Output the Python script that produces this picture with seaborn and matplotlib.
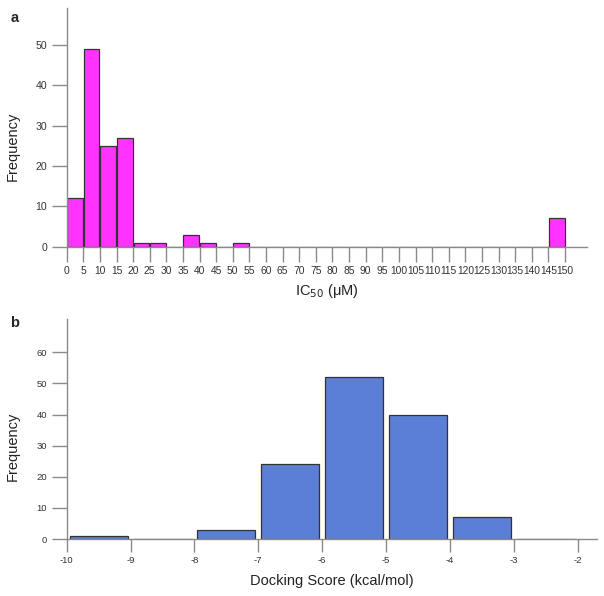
import numpy as np
import pandas as pd
import matplotlib
matplotlib.use("Agg")
import matplotlib.pyplot as plt
import seaborn as sns

# ---- Data ----
ic50_bin_edges = list(range(0, 155, 5))
ic50_counts = [12, 49, 25, 27, 1, 1, 0, 3, 1, 0, 1, 0, 0, 0, 0, 0, 0, 0, 0, 0,
               0, 0, 0, 0, 0, 0, 0, 0, 0, 7]
ic50_ticks = list(range(0, 155, 5))

dock_bin_edges = [-10, -9, -8, -7, -6, -5, -4, -3, -2]
dock_counts = [1, 0, 3, 24, 52, 40, 7, 0]
dock_ticks = [-10, -9, -8, -7, -6, -5, -4, -3, -2]

sns.set_theme(style="white")
plt.rcParams['font.family'] = ['Liberation Sans', 'DejaVu Sans']

fig = plt.figure(figsize=(6.04, 5.96), dpi=100)
axis_gray = "#8a8a8a"

# ---- Panel a ----
ax1 = fig.add_axes([0.1104, 0.5861, 0.8614, 0.4005])
df_a = pd.DataFrame({
    "x": [(ic50_bin_edges[i] + ic50_bin_edges[i + 1]) / 2 for i in range(len(ic50_counts))],
    "w": ic50_counts,
})
sns.histplot(data=df_a, x="x", weights="w", bins=ic50_bin_edges, shrink=0.94,
             color="#FF33FF", alpha=1, edgecolor="#333333", linewidth=0.9, ax=ax1)
ax1.set_xlim(0, 156.6)
ax1.set_ylim(0, 59.2)
ax1.set_xticks(ic50_ticks)
ax1.set_xticklabels([str(t) for t in ic50_ticks], fontsize=7.4, color="#333333")
ax1.set_yticks([0, 10, 20, 30, 40, 50])
ax1.set_yticklabels(["0", "10", "20", "30", "40", "50"], fontsize=7.6, color="#333333")
ax1.set_xlabel("IC$_{50}$ (μM)", fontsize=10.5, color="#222222", labelpad=4)
ax1.set_ylabel("Frequency", fontsize=10.5, color="#222222")
ax1.yaxis.set_label_coords(-0.09, 0.422)
ax1.text(-0.0994, 0.958, "a", transform=ax1.transAxes, fontsize=10.5, fontweight="bold",
         ha="center", va="center")

# ---- Panel b ----
ax2 = fig.add_axes([0.1104, 0.0956, 0.8775, 0.3691])
df_b = pd.DataFrame({
    "x": [(dock_bin_edges[i] + dock_bin_edges[i + 1]) / 2 for i in range(len(dock_counts))],
    "w": dock_counts,
})
sns.histplot(data=df_b, x="x", weights="w", bins=dock_bin_edges, shrink=0.91,
             color="#5B7FD5", alpha=1, edgecolor="#333333", linewidth=0.9, ax=ax2)
ax2.set_xlim(-10, -1.70)
ax2.set_ylim(0, 70.7)
ax2.set_xticks(dock_ticks)
ax2.set_xticklabels([str(t) for t in dock_ticks], fontsize=6.8, color="#333333")
ax2.set_yticks([0, 10, 20, 30, 40, 50, 60])
ax2.set_yticklabels(["0", "10", "20", "30", "40", "50", "60"], fontsize=6.8, color="#333333")
ax2.set_xlabel("Docking Score (kcal/mol)", fontsize=10.5, color="#222222", labelpad=7)
ax2.set_ylabel("Frequency", fontsize=10.5, color="#222222")
ax2.yaxis.set_label_coords(-0.088, 0.423)
ax2.text(-0.0975, 0.982, "b", transform=ax2.transAxes, fontsize=10.5, fontweight="bold",
         ha="center", va="center")

for ax, xlen in ((ax1, 11), (ax2, 9)):
    for s in ("top", "right"):
        ax.spines[s].set_visible(False)
    for s in ("left", "bottom"):
        ax.spines[s].set_color(axis_gray)
        ax.spines[s].set_linewidth(1.0)
    ax.tick_params(axis="x", direction="out", length=xlen, width=1.0, color=axis_gray,
                   pad=3, bottom=True)
    ax.tick_params(axis="y", direction="out", length=11, width=1.0, color=axis_gray,
                   pad=3, left=True)
    ax.grid(False)
    ax.set_facecolor("white")

fig.savefig("out.png", dpi=100, facecolor="white")
